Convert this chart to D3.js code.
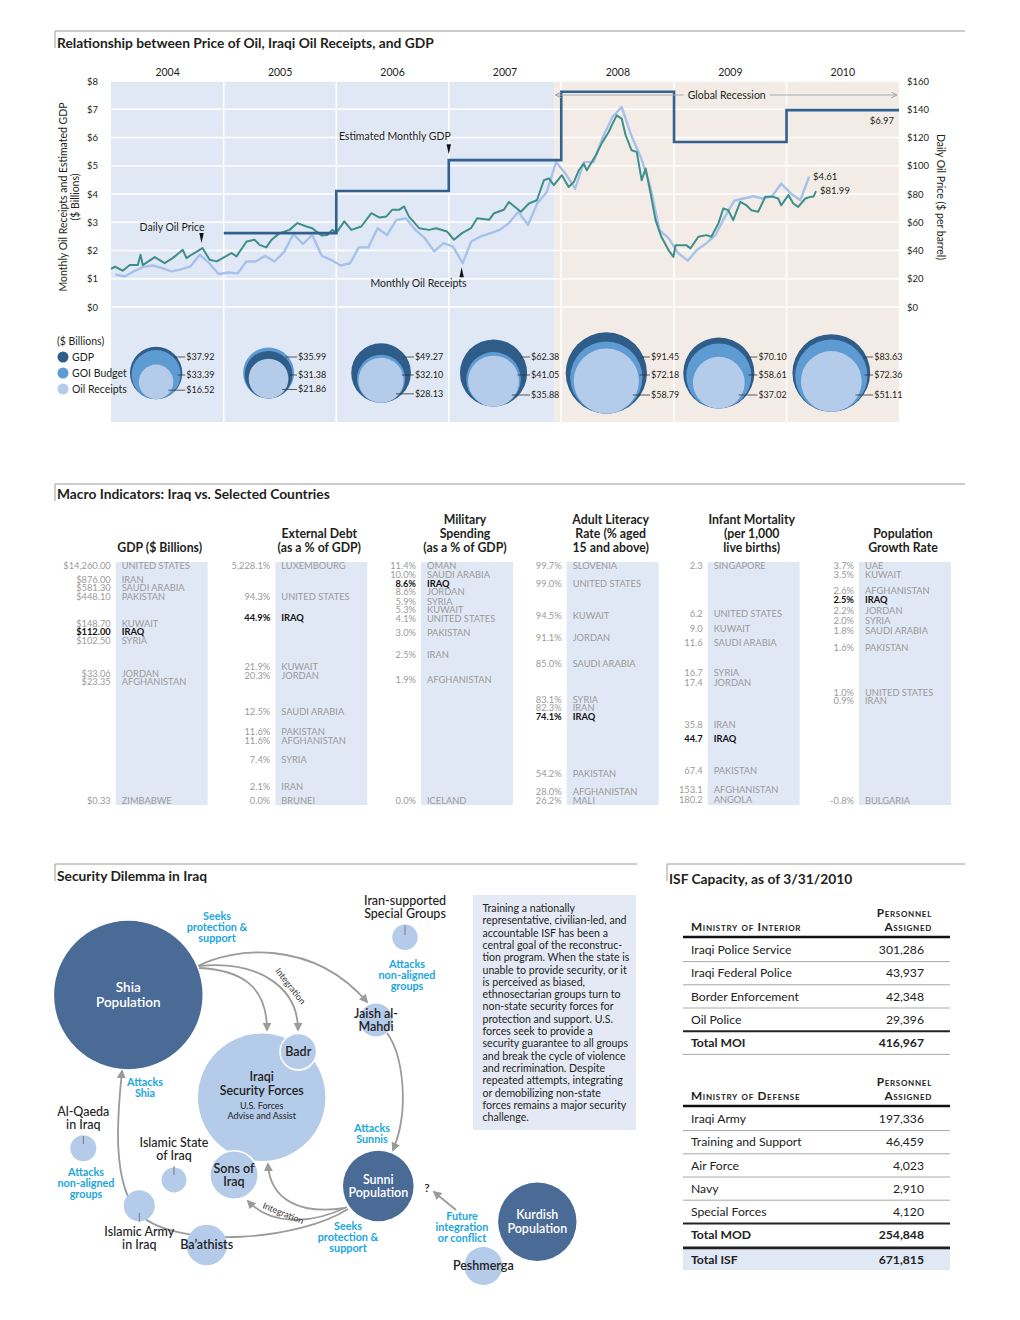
<!DOCTYPE html>
<html><head><meta charset="utf-8">
<script src="https://cdn.jsdelivr.net/npm/d3@7"></script>
<style>
body{margin:0;background:#fff;}
svg{font-family:Lato,"Open Sans",sans-serif;}
</style></head><body>
<svg id="c" width="1020" height="1320"></svg>
<script>
// ===================== DATA =====================
const years = ["2004","2005","2006","2007","2008","2009","2010"];
const gdpAnnual = [37.92, 31.38, 49.27, 62.38, 91.45, 70.10, 83.63];
const budgetAnnual = [33.39, 35.99, 32.10, 41.05, 72.18, 58.61, 72.36];
const receiptsAnnual = [16.52, 21.86, 28.13, 35.88, 58.79, 37.02, 51.11];
const gdpStepYears = ["2005","2006","2007","2008","2009","2010"];
const leftTicks = [0,1,2,3,4,5,6,7,8];
const rightTicks = [0,20,40,60,80,100,120,140,160];
// monthly oil receipts ($B), Jan 2004 .. Mar 2010
const receiptsMonthly = [
 1.15,1.08,1.26,1.42,1.47,1.38,1.26,1.33,1.44,1.85,1.55,1.17,
 1.22,1.19,1.61,1.61,1.81,1.61,1.94,2.58,2.23,2.55,1.81,1.67,
 1.47,1.55,2.11,2.11,2.79,2.55,3.08,3.14,2.73,2.44,1.97,2.26,
 2.14,1.55,2.32,2.50,2.61,2.73,2.97,3.37,2.90,3.66,4.07,5.13,
 4.72,4.19,5.13,5.13,6.02,6.72,7.08,6.08,5.31,4.31,2.72,2.43,
 1.90,1.64,2.01,2.25,2.54,3.19,3.76,3.84,3.92,3.84,3.92,4.37,
 4.02,3.78,4.61];
// daily oil price ($/bbl): [months since Jan 2004, price]
const oilPrice = [
 [0,27],[0.43,28.5],[1.28,25.7],[2.02,29.7],[2.87,29.7],[3.16,37],[3.4,29.7],[4.68,35.3],[5.74,31],
 [6.59,34.6],[7.66,40.5],[8.08,34.6],[8.72,37.5],[9.78,41.7],[10.53,33.4],[11.27,32.3],[11.91,34.6],
 [12.87,38.2],[13.4,35.8],[14.46,46.4],[15.31,47.6],[15.85,44],[16.59,42.2],[17.12,47.6],[17.97,52.3],
 [19.04,54.6],[19.89,59.4],[20.84,57],[21.48,55.8],[22.44,50.7],[23.08,51],[23.61,54.6],[24.04,52.3],
 [24.89,60.6],[25.63,54.6],[26.69,57],[27.76,66.4],[28.61,63.4],[29.35,64],[29.99,68.8],[30.74,68.8],
 [31.27,71.2],[31.8,64],[32.86,55.8],[33.93,54.6],[34.67,55.8],[35.84,53.5],[36.58,47.6],[37.44,52.3],
 [38.39,55.8],[39.03,62.9],[40.31,61.7],[40.84,66.4],[41.9,68.8],[42.43,74.4],[43.71,67.4],[44.56,73.3],
 [45.41,75.6],[46.16,89.8],[46.69,91],[47.22,86.2],[48.07,93.3],[48.81,85],[49.35,88.6],[49.88,96.8],
 [50.41,101.5],[50.73,96.8],[51.69,107.4],[52.32,115.7],[53.07,123.9],[53.39,128.6],[53.92,135.7],
 [54.45,133.4],[54.88,121.6],[55.51,111],[56.05,109.8],[56.58,89.8],[57,98],[57.53,80.4],[58.07,61.5],
 [58.7,49.7],[59.45,40.3],[59.98,35.5],[60.19,43.8],[61.36,43.8],[61.79,41.5],[62.64,49.7],[63.49,50.9],
 [64.02,49.7],[64.77,59.2],[65.3,69.8],[65.83,68.5],[66.36,61.5],[67.11,74.4],[67.75,72],[68.28,68.5],
 [69.02,67.4],[69.77,78],[70.62,78],[71.15,76.8],[71.47,72],[72.21,79.2],[72.74,73.3],[73.27,70.9],
 [74.02,76.8],[74.55,78],[74.87,78],[75.19,82]];
const recessionStart = "2007-12-10";

// Macro indicators
const gdpCountries = ["UNITED STATES","IRAN","SAUDI ARABIA","PAKISTAN","KUWAIT","IRAQ","SYRIA","JORDAN","AFGHANISTAN","ZIMBABWE"];
const gdpValues = [14260, 876, 581.3, 448.1, 148.7, 112, 102.5, 33.06, 23.35, 0.33];
const debtCountries = ["LUXEMBOURG","UNITED STATES","IRAQ","KUWAIT","JORDAN","SAUDI ARABIA","PAKISTAN","AFGHANISTAN","SYRIA","IRAN","BRUNEI"];
const debtValues = [5228.1, 94.3, 44.9, 21.9, 20.3, 12.5, 11.6, 11.6, 7.4, 2.1, 0.0];
const milCountries = ["OMAN","SAUDI ARABIA","IRAQ","JORDAN","SYRIA","KUWAIT","UNITED STATES","PAKISTAN","IRAN","AFGHANISTAN","ICELAND"];
const milValues = [11.4, 10.0, 8.6, 8.6, 5.9, 5.3, 4.1, 3.0, 2.5, 1.9, 0.0];
const litCountries = ["SLOVENIA","UNITED STATES","KUWAIT","JORDAN","SAUDI ARABIA","SYRIA","IRAN","IRAQ","PAKISTAN","AFGHANISTAN","MALI"];
const litValues = [99.7, 99.0, 94.5, 91.1, 85.0, 83.1, 82.3, 74.1, 54.2, 28.0, 26.2];
const infCountries = ["SINGAPORE","UNITED STATES","KUWAIT","SAUDI ARABIA","SYRIA","JORDAN","IRAN","IRAQ","PAKISTAN","AFGHANISTAN","ANGOLA"];
const infValues = [2.3, 6.2, 9.0, 11.6, 16.7, 17.4, 35.8, 44.7, 67.4, 153.1, 180.2];
const popCountries = ["UAE","KUWAIT","AFGHANISTAN","IRAQ","JORDAN","SYRIA","SAUDI ARABIA","PAKISTAN","UNITED STATES","IRAN","BULGARIA"];
const popValues = [3.7, 3.5, 2.6, 2.5, 2.2, 2.0, 1.8, 1.6, 1.0, 0.9, -0.8];

// ISF capacity
const moiUnits = ["Iraqi Police Service","Iraqi Federal Police","Border Enforcement","Oil Police"];
const moiPersonnel = [301286, 43937, 42348, 29396];
const modUnits = ["Iraqi Army","Training and Support","Air Force","Navy","Special Forces"];
const modPersonnel = [197336, 46459, 4023, 2910, 4120];

const noteText = ["Training a nationally","representative, civilian-led, and","accountable ISF has been a",
"central goal of the reconstruc-","tion program. When the state is","unable to provide security, or it",
"is perceived as biased,","ethnosectarian groups turn to","non-state security forces for",
"protection and support. U.S.","forces seek to provide a","security guarantee to all groups",
"and break the cycle of  violence","and recrimination. Despite","repeated attempts, integrating",
"or demobilizing non-state","forces remains a major security","challenge."];

// ===================== LAYOUT / STYLE =====================
const C = {blueBg:"#e1e8f5", beige:"#f3ece6", dark:"#33618f", darkC:"#2f5d8a", mid:"#5e9bd3", light:"#b5cbea",
  teal:"#3e8e89", lineLight:"#a7c2ea", grey:"#999", text:"#231f20", node:"#4b6b97", nodeL:"#b5cbea", cyan:"#1ba6dc"};
const svg = d3.select("#c");

function sectionHeader(x1, x2, y, title, ty){
  svg.append("line").attr("x1",x1).attr("x2",x2).attr("y1",y).attr("y2",y).attr("stroke","#9a9a9a").attr("stroke-width",1);
  svg.append("line").attr("x1",x1).attr("x2",x1).attr("y1",y).attr("y2",y+17).attr("stroke","#9a9a9a").attr("stroke-width",1);
  svg.append("text").attr("x",x1+2).attr("y",ty).attr("font-size",13.8).attr("font-weight",700).attr("fill",C.text).text(title);
}

// ===================== CHART 1 =====================
sectionHeader(55, 965, 31, "Relationship between Price of Oil, Iraqi Oil Receipts, and GDP", 48);
const mDate = m => new Date(2004, 0, 1 + m*30.44);
const x = d3.scaleTime().domain([new Date(2004,0,1), new Date(2011,0,1)]).range([111, 899]);
const yL = d3.scaleLinear().domain([0,8]).range([307, 81]);
const yR = d3.scaleLinear().domain([0,160]).range([307, 81]);
const top1 = 81, bot1 = 422;
const xr = x(new Date(recessionStart));
svg.append("rect").attr("x",111).attr("y",top1).attr("width",xr-111).attr("height",bot1-top1).attr("fill",C.blueBg);
svg.append("rect").attr("x",xr).attr("y",top1).attr("width",899-xr).attr("height",bot1-top1).attr("fill",C.beige);
svg.append("g").selectAll("line").data(leftTicks).join("line")
  .attr("x1",111).attr("x2",899).attr("y1",d=>yL(d)).attr("y2",d=>yL(d)).attr("stroke","#fff").attr("stroke-width",1.3);
svg.append("g").selectAll("line").data(years.slice(1)).join("line")
  .attr("x1",d=>x(new Date(+d,0,1))).attr("x2",d=>x(new Date(+d,0,1))).attr("y1",top1).attr("y2",bot1)
  .attr("stroke","#fff").attr("stroke-width",1.5);

const axL = svg.append("g").attr("transform","translate(101,0)")
  .call(d3.axisLeft(yL).tickValues(leftTicks).tickFormat(d=>"$"+d).tickSize(0).tickPadding(3));
const axR = svg.append("g").attr("transform","translate(904,0)")
  .call(d3.axisRight(yR).tickValues(rightTicks).tickFormat(d=>"$"+d).tickSize(0).tickPadding(3));
const axT = svg.append("g").attr("transform","translate(0,79)")
  .call(d3.axisTop(x).tickValues(years.map(y=>new Date(+y,6,1))).tickFormat(d3.timeFormat("%Y")).tickSize(0).tickPadding(3));
[axL,axR,axT].forEach(a=>{a.select(".domain").remove(); a.selectAll("text").attr("font-family","Lato,'Open Sans',sans-serif").attr("font-size",9.5).attr("fill",C.text);});
axT.selectAll("text").attr("font-size",10.5);

svg.append("text").attr("transform","translate(67,197) rotate(-90)").attr("text-anchor","middle").attr("font-size",10.5).attr("fill",C.text).text("Monthly Oil Receipts and Estimated GDP");
svg.append("text").attr("transform","translate(79,197) rotate(-90)").attr("text-anchor","middle").attr("font-size",10.5).attr("fill",C.text).text("($ Billions)");
svg.append("text").attr("transform","translate(937,197) rotate(90)").attr("text-anchor","middle").attr("font-size",10.5).attr("fill",C.text).text("Daily Oil Price ($ per barrel)");

// receipts line
const recPts = receiptsMonthly.map((v,i)=>[new Date(2004, i, 15), v]);
svg.append("path").datum(recPts).attr("fill","none").attr("stroke",C.lineLight).attr("stroke-width",2.4)
  .attr("stroke-linejoin","round").attr("d", d3.line().x(d=>x(d[0])).y(d=>yL(d[1])));
// oil price
svg.append("path").datum(oilPrice).attr("fill","none").attr("stroke",C.teal).attr("stroke-width",2)
  .attr("stroke-linejoin","round").attr("d", d3.line().x(d=>x(mDate(d[0]))).y(d=>yR(d[1])));
// gdp steps
const gdpSteps = gdpStepYears.map(y=>[new Date(+y,0,1), gdpAnnual[years.indexOf(y)]/12]);
gdpSteps.push([new Date(2011,0,1), gdpSteps[gdpSteps.length-1][1]]);
svg.append("path").datum(gdpSteps).attr("fill","none").attr("stroke",C.dark).attr("stroke-width",2.6)
  .attr("d", d3.line().curve(d3.curveStepAfter).x(d=>x(d[0])).y(d=>yL(d[1])));

// global recession arrow
const grY = 95;
svg.append("defs").html(`
 <marker id="gra" viewBox="0 0 10 10" refX="9" refY="5" markerWidth="7" markerHeight="7" orient="auto-start-reverse"><path d="M1,1 L9,5 L1,9" fill="none" stroke="#a0a0a0" stroke-width="1.4"/></marker>
 <marker id="arr" viewBox="0 0 10 10" refX="8" refY="5" markerWidth="5" markerHeight="5" orient="auto"><path d="M0,0 L10,5 L0,10 z" fill="#9b9b9b"/></marker>`);
svg.append("line").attr("x1",xr+1).attr("x2",897).attr("y1",grY).attr("y2",grY).attr("stroke","#a8a8a8").attr("stroke-width",1)
  .attr("marker-start","url(#gra)").attr("marker-end","url(#gra)");
const grMid = (xr+899)/2;
svg.append("rect").attr("x",grMid-43).attr("y",grY-6).attr("width",86).attr("height",12).attr("fill",C.beige);
svg.append("text").attr("x",grMid).attr("y",grY+3.5).attr("text-anchor","middle").attr("font-size",10.5).attr("fill",C.text).text("Global Recession");

// end labels
const lastGdp = gdpSteps[gdpSteps.length-1][1];
svg.append("text").attr("x",894).attr("y",yL(lastGdp)+14).attr("text-anchor","end").attr("font-size",9.5).attr("fill",C.text).text("$"+lastGdp.toFixed(2));
const lastRec = recPts[recPts.length-1];
svg.append("text").attr("x",x(lastRec[0])+4).attr("y",yL(lastRec[1])+3).attr("font-size",9.5).attr("fill",C.text).text("$"+lastRec[1].toFixed(2));
const lastOil = oilPrice[oilPrice.length-1];
svg.append("text").attr("x",x(mDate(lastOil[0]))+4).attr("y",yR(lastOil[1])+3).attr("font-size",9.5).attr("fill",C.text).text("$81.99");

// annotations with pointers
function pointer(px, py, dir){ // dir: 1 down, -1 up; (px,py) tip
  const h = 10*dir;
  svg.append("path").attr("d",`M${px-2.2},${py-h} L${px+2.2},${py-h} L${px},${py} Z`).attr("fill","#111");
}
const gdp07 = gdpAnnual[years.indexOf("2007")]/12;
const gx = x(new Date(2007,0,1));
pointer(gx, yL(gdp07)-6, 1);
svg.append("text").attr("x",gx+2).attr("y",yL(gdp07)-20).attr("text-anchor","end").attr("font-size",10.5).attr("fill",C.text).text("Estimated Monthly GDP");
const op = oilPrice[13]; // Oct 2004 point
pointer(x(mDate(op[0]))-1, yR(op[1])-5, 1);
svg.append("text").attr("x",x(mDate(op[0]))+2).attr("y",yR(op[1])-17).attr("text-anchor","end").attr("font-size",10.5).attr("fill",C.text).text("Daily Oil Price");
const rp = recPts[37];
pointer(x(rp[0])-1, yL(rp[1])+4, -1);
svg.append("text").attr("x",x(rp[0])+4).attr("y",yL(rp[1])+24).attr("text-anchor","end").attr("font-size",10.5).attr("fill",C.text).text("Monthly Oil Receipts");

// bubble row
const k = 4.25, bubbleCY = 373;
years.forEach((yr,i)=>{
  const cx = x(new Date(+yr,6,1)) - 11;
  const items = [{v:gdpAnnual[i],c:C.darkC},{v:budgetAnnual[i],c:C.mid},{v:receiptsAnnual[i],c:C.nodeL}]
    .sort((a,b)=>b.v-a.v);
  const R = k*Math.sqrt(items[0].v), bottom = bubbleCY + R;
  items.forEach(it=>{ it.r = k*Math.sqrt(it.v); it.cy = bottom - it.r; });
  svg.append("g").selectAll("circle").data(items).join("circle")
    .attr("cx",cx).attr("cy",d=>d.cy).attr("r",d=>d.r).attr("fill",d=>d.c);
  const lx = cx + R + 4;
  const ly = [357, 375, Math.min(395, bottom - 9)];
  items.forEach((it,j)=>{
    const dy = ly[j]-it.cy;
    const ex = Math.abs(dy)<it.r ? cx + Math.sqrt(it.r*it.r-dy*dy) - 3 : cx;
    svg.append("line").attr("x1",ex).attr("x2",lx-1).attr("y1",ly[j]).attr("y2",ly[j]).attr("stroke","#333").attr("stroke-width",0.8);
    svg.append("text").attr("x",lx).attr("y",ly[j]+3).attr("font-size",9).attr("fill",C.text).text(d3.format("$.2f")(it.v));
  });
});
// legend
svg.append("text").attr("x",57).attr("y",345).attr("font-size",10.5).attr("fill",C.text).text("($ Billions)");
[["GDP",C.darkC],["GOI Budget",C.mid],["Oil Receipts",C.nodeL]].forEach((d,i)=>{
  const yy = 357 + i*16;
  svg.append("circle").attr("cx",63).attr("cy",yy).attr("r",5.5).attr("fill",d[1]);
  svg.append("text").attr("x",72).attr("y",yy+3.5).attr("font-size",10.5).attr("fill",C.text).text(d[0]);
});

// ===================== MACRO INDICATORS =====================
sectionHeader(55, 965, 484, "Macro Indicators: Iraq vs. Selected Countries", 499);
const colTop = 562, colBot = 805;
const macroCols = [
  {head:["GDP ($ Billions)"], names:gdpCountries, vals:gdpValues, fmt:d3.format("$,.2f"), bx:115.7,
   rows:[566,579.3,587.3,596.7,624,631.7,641,673.7,682,801]},
  {head:["External Debt","(as a % of GDP)"], names:debtCountries, vals:debtValues, fmt:v=>d3.format(",.1f")(v)+"%", bx:275.3,
   rows:[566,597,617.3,666.7,676,711.7,731.7,741,760,786.7,801]},
  {head:["Military","Spending","(as a % of GDP)"], names:milCountries, vals:milValues, fmt:v=>d3.format(".1f")(v)+"%", bx:421,
   rows:[566,574.3,583.3,592,601.3,610,618.3,632.7,655,679.3,801]},
  {head:["Adult Literacy","Rate (% aged","15 and above)"], names:litCountries, vals:litValues, fmt:v=>d3.format(".1f")(v)+"%", bx:566.7,
   rows:[566,584,615.3,637.7,663.7,699.3,708,716.7,773.7,792,800.3]},
  {head:["Infant Mortality","(per 1,000","live births)"], names:infCountries, vals:infValues, fmt:d3.format(".1f"), bx:707.7,
   rows:[565.7,614,629,642.3,672.7,683,724.3,738.3,770.7,789.3,800]},
  {head:["Population","Growth Rate"], names:popCountries, vals:popValues, fmt:v=>d3.format(".1f")(v).replace("−","-")+"%", bx:859,
   rows:[565.7,575,591,599.3,611,621,631,647.7,692.7,701,801]}
];
const colW = 92;
macroCols.forEach(col=>{
  svg.append("rect").attr("x",col.bx).attr("y",colTop).attr("width",colW).attr("height",colBot-colTop).attr("fill",C.blueBg);
  const hc = col.bx + colW/2 - 2;
  col.head.forEach((h,j)=>{
    svg.append("text").attr("x",hc).attr("y",552 - (col.head.length-1-j)*14).attr("text-anchor","middle")
      .attr("font-size",12.3).attr("font-weight",700).attr("fill",C.text).text(h);
  });
  const g = svg.append("g");
  const rowY = d3.scaleOrdinal().domain(col.names.map((n,i)=>i)).range(col.rows);
  col.names.forEach((n,i)=>{
    const iraq = n==="IRAQ";
    g.append("text").attr("x",col.bx-5).attr("y",rowY(i)+3.3).attr("text-anchor","end").attr("font-size",9.3)
      .attr("fill",iraq?"#111":"#9a9a9a").attr("font-weight",iraq?700:400).text(col.fmt(col.vals[i]));
    g.append("text").attr("x",col.bx+6).attr("y",rowY(i)+3.3).attr("font-size",9.3)
      .attr("fill",iraq?"#111":"#9a9a9a").attr("font-weight",iraq?700:400).text(n);
  });
});

// ===================== SECURITY DILEMMA =====================
sectionHeader(55, 637, 864, "Security Dilemma in Iraq", 881);
const nodes = {
  shia:{x:128.3,y:995,r:74.2,dark:true,lines:["Shia","Population"],fs:13.5},
  isf:{x:261.7,y:1097.3,r:63.7},
  badr:{x:298.3,y:1051.7,r:18.3,stroke:true,lines:["Badr"],fs:12.5},
  sons:{x:234,y:1175,r:24.2,stroke:true,lines:["Sons of","Iraq"],fs:12.5},
  sunni:{x:378.3,y:1186,r:35.3,dark:true,lines:["Sunni","Population"],fs:12.5},
  jaish:{x:376,y:1020,r:16.5,lines:["Jaish al-","Mahdi"],fs:12.5},
  iran:{x:405,y:937.3,r:12.7},
  aqi:{x:83.3,y:1148.3,r:13},
  isi:{x:174,y:1180,r:12.5},
  iai:{x:139.3,y:1205.7,r:15.5},
  baath:{x:206.7,y:1245,r:20.3,lines:["Ba’athists"],fs:12.5},
  kurd:{x:537.3,y:1221.7,r:39.2,dark:true,lines:["Kurdish","Population"],fs:12.5},
  pesh:{x:483.3,y:1266,r:19,lines:["Peshmerga"],fs:12.5}
};
// arrows
const arrowPaths = [
  "M198,966 C232,948 312,938 367,1002",
  "M199,968 C240,970 267,985 267,1030",
  "M199,966 C255,960 298,985 298,1030",
  "M387,1033 C403,1055 410,1110 393,1150",
  "M348,1209 C300,1240 180,1250 140,1215 C110,1185 118,1110 122,1071",
  "M347,1207 C310,1225 270,1225 248,1201",
  "M345,1208 C300,1215 270,1200 268,1164",
  "M456,1210 L434,1192"
];
svg.append("g").selectAll("path").data(arrowPaths).join("path").attr("d",d=>d).attr("fill","none")
  .attr("stroke","#9b9b9b").attr("stroke-width",1.8).attr("marker-end","url(#arr)");
// circles
Object.values(nodes).forEach(n=>{
  svg.append("circle").attr("cx",n.x).attr("cy",n.y).attr("r",n.r).attr("fill",n.dark?C.node:C.nodeL)
    .attr("stroke",n.stroke?"#fff":"none").attr("stroke-width",1.5);
});
Object.values(nodes).forEach(n=>{
  if(!n.lines) return;
  const lh = n.fs*1.1;
  n.lines.forEach((t,j)=>{
    svg.append("text").attr("x",n.x).attr("y",n.y + (j-(n.lines.length-1)/2)*lh + n.fs*0.35).attr("text-anchor","middle")
      .attr("font-size",n.fs).attr("font-weight",n.dark?600:600).attr("fill",n.dark?"#fff":"#222").text(t);
  });
});
// ISF text
[["Iraqi",1081,12.5],["Security Forces",1095,12.5],["U.S. Forces",1109,9],["Advise and Assist",1119,9]].forEach(d=>{
  svg.append("text").attr("x",nodes.isf.x).attr("y",d[1]).attr("text-anchor","middle").attr("font-size",d[2])
   .attr("font-weight",d[2]>10?600:400).attr("fill","#222").text(d[0]);
});
// outside labels with connector lines
function extLabel(lines, cx, y0, lineTo, fs){
  lines.forEach((t,j)=>svg.append("text").attr("x",cx).attr("y",y0+j*12.5).attr("text-anchor","middle").attr("font-size",fs||12.5)
    .attr("font-weight",500).attr("fill","#222").text(t));
  if(lineTo) svg.append("line").attr("x1",cx).attr("x2",cx).attr("y1",lineTo[0]).attr("y2",lineTo[1]).attr("stroke","#666").attr("stroke-width",0.8);
}
extLabel(["Iran-supported","Special Groups"], 405, 905, [925,935]);
extLabel(["Al-Qaeda","in Iraq"], 83.3, 1116, [1136,1144]);
extLabel(["Islamic State","of Iraq"], 174, 1147, [1166,1175]);
extLabel(["Islamic Army","in Iraq"], 139.3, 1236, [1213,1222]);
svg.append("text").attr("x",427).attr("y",1192).attr("text-anchor","middle").attr("font-size",12).attr("font-weight",600).attr("fill","#222").text("?");
// cyan labels
function cyan(lines, cx, y0){
  lines.forEach((t,j)=>svg.append("text").attr("x",cx).attr("y",y0+j*10.8).attr("text-anchor","middle").attr("font-size",10.8)
    .attr("font-weight",700).attr("fill",C.cyan).text(t));
}
cyan(["Seeks","protection &","support"], 217, 920);
cyan(["Attacks","non-aligned","groups"], 407, 968);
cyan(["Attacks","Shia"], 145, 1086);
cyan(["Attacks","Sunnis"], 372, 1132);
cyan(["Attacks","non-aligned","groups"], 86, 1176);
cyan(["Seeks","protection &","support"], 348, 1230);
cyan(["Future","integration","or conflict"], 462, 1220);
// integration labels
svg.append("text").attr("transform","translate(288,988) rotate(52)").attr("text-anchor","middle").attr("font-size",9).attr("fill","#333").text("Integration");
svg.append("text").attr("transform","translate(282,1216) rotate(22)").attr("text-anchor","middle").attr("font-size",9).attr("fill","#333").text("Integration");

// note box
svg.append("rect").attr("x",473).attr("y",895).attr("width",163).attr("height",235).attr("fill","#e4e9f5");
svg.append("g").selectAll("text").data(noteText).join("text").attr("x",482.5).attr("y",(d,i)=>912+i*12.3)
  .attr("font-size",10.6).attr("fill","#231f20").text(d=>d);

// ===================== ISF CAPACITY =====================
sectionHeader(667, 965, 864, "ISF Capacity, as of 3/31/2010", 884);
const fmtN = d3.format(",");
function isfTable(title, units, vals, totalLabel, y0){
  const hdr = (tx, xx, yy, anchor) => svg.append("text").attr("x",xx).attr("y",yy).attr("text-anchor",anchor)
    .attr("font-size",11.8).attr("font-weight",700).attr("letter-spacing",0.7).style("font-variant","small-caps")
    .attr("fill","#222").text(tx);
  hdr("Personnel", 932, y0, "end");
  hdr("Assigned", 932, y0+14, "end");
  hdr(title, 691, y0+14, "start");
  const lineY = y0+20;
  svg.append("line").attr("x1",683).attr("x2",950).attr("y1",lineY).attr("y2",lineY).attr("stroke","#111").attr("stroke-width",2.5);
  const rowH = 23.2;
  const rows = units.map((u,i)=>({u, v:vals[i]}));
  rows.push({u:totalLabel, v:d3.sum(vals), total:true});
  rows.forEach((r,i)=>{
    const cy = lineY + 13 + i*rowH;
    svg.append("text").attr("x",691).attr("y",cy+4.2).attr("font-size",12.2).attr("font-weight",r.total?700:400).attr("fill","#222").text(r.u);
    svg.append("text").attr("x",924).attr("y",cy+4.2).attr("text-anchor","end").attr("font-size",12.2).attr("font-weight",r.total?700:400).attr("fill","#222").text(fmtN(r.v));
    const sy = cy + rowH/2;
    const beforeTotal = i===rows.length-2;
    svg.append("line").attr("x1",683).attr("x2",950).attr("y1",sy).attr("y2",sy)
      .attr("stroke",beforeTotal?"#222":"#a9a9a9").attr("stroke-width",beforeTotal?2:1);
  });
  return d3.sum(vals);
}
const moiTotal = isfTable("Ministry of Interior", moiUnits, moiPersonnel, "Total MOI", 917);
const modTotal = isfTable("Ministry of Defense", modUnits, modPersonnel, "Total MOD", 1086);
// Total ISF
svg.append("rect").attr("x",683).attr("y",1249).attr("width",267).attr("height",21).attr("fill",C.blueBg);
svg.append("line").attr("x1",683).attr("x2",950).attr("y1",1248).attr("y2",1248).attr("stroke","#222").attr("stroke-width",2.5);
svg.append("text").attr("x",691).attr("y",1263.5).attr("font-size",12.2).attr("font-weight",700).attr("fill","#222").text("Total ISF");
svg.append("text").attr("x",924).attr("y",1263.5).attr("text-anchor","end").attr("font-size",12.2).attr("font-weight",700).attr("fill","#222").text(fmtN(moiTotal+modTotal));
</script></body></html>
